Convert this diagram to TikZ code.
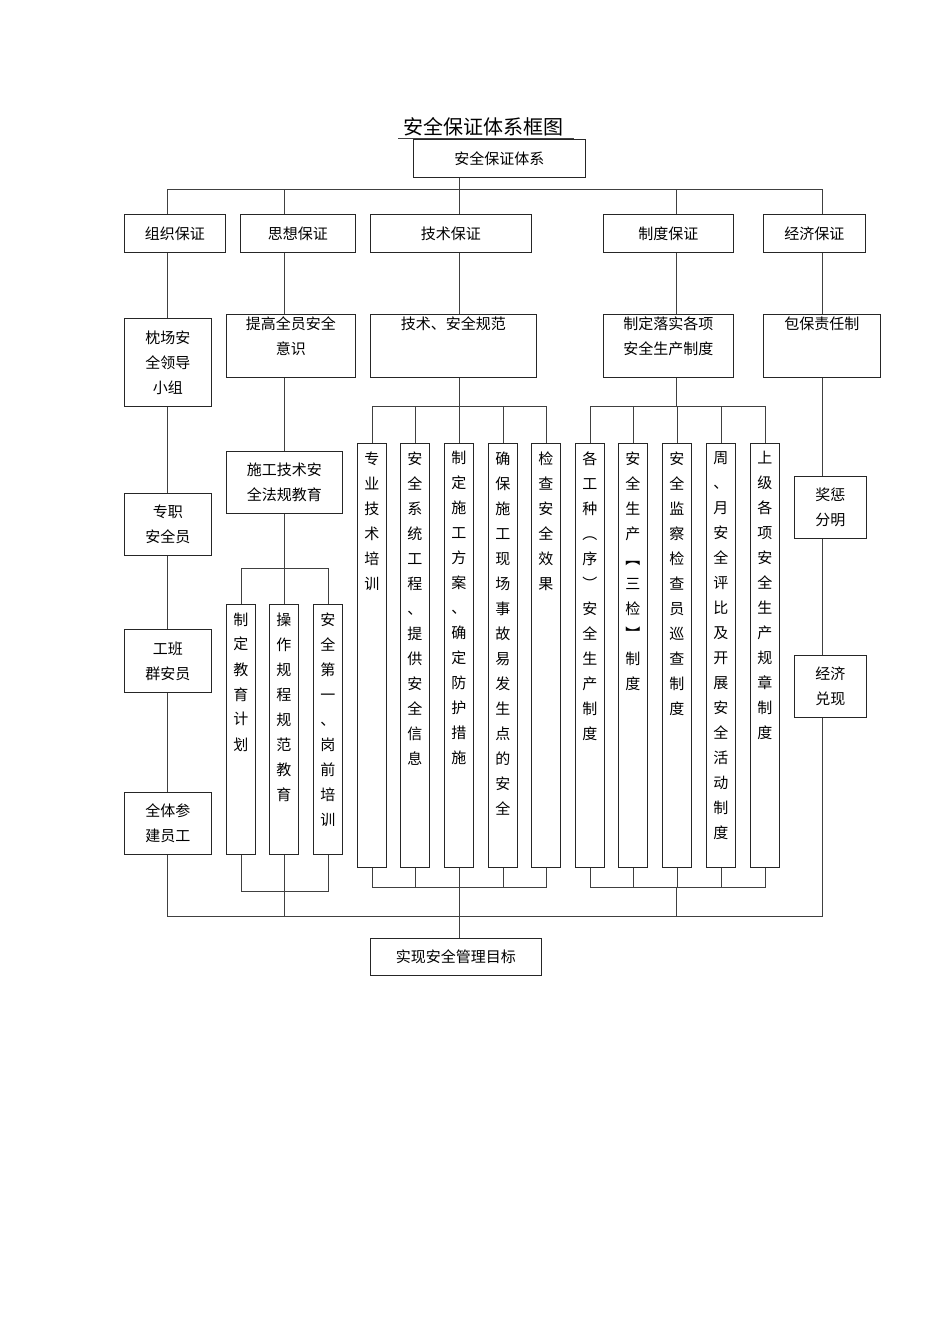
\documentclass[tikz,border=0pt]{standalone}
\usepackage{fontspec}
\setmainfont{Noto Sans CJK SC}
\def\vsloop#1{\ifx\relax#1\else#1\par\expandafter\vsloop\fi}
\newcommand\vtext[1]{\vsloop#1\relax}
\newcommand\bx[8]{\node[box,anchor=north west] (#1) at (#2,#3) {\parbox[c][\dimexpr#5pt-#3pt\relax][#6]{\dimexpr#4pt-#2pt\relax}{\centering\vspace*{#7pt}#8\par}};}
\begin{document}
\begin{tikzpicture}[x=1pt,y=-1pt,
  box/.style={draw=black!85,line width=0.9pt,inner sep=0pt,font=\fontsize{15}{25}\selectfont},
  ln/.style={draw=black!75,line width=0.8pt}]
\useasboundingbox (0,0) rectangle (950,1344);
\node[font=\fontsize{20}{24}\selectfont] (title) at (483,127) {安全保证体系框图};
\draw[ln] (398,138) -- (574,138);
% boxes
\bx{top}{413}{139}{585}{177}{c}{0}{安全保证体系}
\bx{a1}{124}{214}{225}{252}{c}{0}{组织保证}
\bx{b1}{240}{214}{355}{252}{c}{0}{思想保证}
\bx{c1}{370}{214}{531}{252}{c}{0}{技术保证}
\bx{d1}{603}{214}{733}{252}{c}{0}{制度保证}
\bx{e1}{763}{214}{865}{252}{c}{0}{经济保证}
\bx{a2}{124}{318}{211}{406}{c}{0}{枕场安\\全领导\\小组}
\bx{b2}{226}{314}{355}{377}{t}{2}{提高全员安全\\意识}
\bx{c2}{370}{314}{536}{377}{t}{2}{技术、安全规范}
\bx{d2}{603}{314}{733}{377}{t}{2}{制定落实各项\\安全生产制度}
\bx{e2}{763}{314}{880}{377}{t}{2}{包保责任制}
\bx{b3}{226}{451}{342}{513}{c}{0}{施工技术安\\全法规教育}
\bx{a3}{124}{493}{211}{555}{c}{0}{专职\\安全员}
\bx{a4}{124}{629}{211}{692}{c}{0}{工班\\群安员}
\bx{a5}{124}{792}{211}{854}{c}{0}{全体参\\建员工}
\bx{e3}{794}{476}{866}{538}{c}{0}{奖惩\\分明}
\bx{e4}{794}{655}{866}{717}{c}{0}{经济\\兑现}
\bx{g1}{226}{604}{255}{854}{t}{8}{\vtext{制定教育计划}}
\bx{g2}{269}{604}{298}{854}{t}{8}{\vtext{操作规程规范教育}}
\bx{g3}{313}{604}{342}{854}{t}{8}{\vtext{安全第一、岗前培训}}
\bx{t1}{357}{443}{386}{867}{t}{8}{\vtext{专业技术培训}}
\bx{t2}{400}{443}{429}{867}{t}{8}{\vtext{安全系统工程、提供安全信息}}
\bx{t3}{444}{443}{473}{867}{t}{8}{\vtext{制定施工方案、确定防护措施}}
\bx{t4}{488}{443}{517}{867}{t}{8}{\vtext{确保施工现场事故易发生点的安全}}
\bx{t5}{531}{443}{560}{867}{t}{8}{\vtext{检查安全效果}}
\bx{s1}{575}{443}{604}{867}{t}{8}{\vtext{各工种︵序︶安全生产制度}}
\bx{s2}{618}{443}{647}{867}{t}{8}{\vtext{安全生产︻三检︼制度}}
\bx{s3}{662}{443}{691}{867}{t}{8}{\vtext{安全监察检查员巡查制度}}
\bx{s4}{706}{443}{735}{867}{t}{8}{\vtext{周、月安全评比及开展安全活动制度}}
\bx{s5}{750}{443}{779}{867}{t}{8}{\vtext{上级各项安全生产规章制度}}
\bx{goal}{370}{938}{541}{975}{c}{0}{实现安全管理目标}
% branch coordinates
\coordinate (xa) at (167,0); \coordinate (xb) at (284,0); \coordinate (xc) at (459,0);
\coordinate (xd) at (676,0); \coordinate (xe) at (822,0);
\coordinate (ytop) at (0,189); \coordinate (ybot) at (0,916);
\coordinate (ye) at (0,568); \coordinate (yeb) at (0,891);
\coordinate (yt) at (0,406); \coordinate (ytb) at (0,887);
% top bus
\draw[ln] (top.south -| xc) -- (xc |- ytop);
\draw[ln] (xa |- a1.north) -- (xa |- ytop) -- (xe |- ytop) -- (xe |- e1.north);
\draw[ln] (xb |- ytop) -- (xb |- b1.north);
\draw[ln] (xc |- ytop) -- (xc |- c1.north);
\draw[ln] (xd |- ytop) -- (xd |- d1.north);
% columns
\draw[ln] (xa |- a1.south) -- (xa |- a2.north);
\draw[ln] (xa |- a2.south) -- (xa |- a3.north);
\draw[ln] (xa |- a3.south) -- (xa |- a4.north);
\draw[ln] (xa |- a4.south) -- (xa |- a5.north);
\draw[ln] (xa |- a5.south) -- (xa |- ybot) -- (xe |- ybot) -- (xe |- e4.south);
\draw[ln] (xb |- b1.south) -- (xb |- b2.north);
\draw[ln] (xb |- b2.south) -- (xb |- b3.north);
\draw[ln] (xb |- b3.south) -- (xb |- ye);
\draw[ln] (g1.north) |- (g3.north |- ye) -- (g3.north);
\draw[ln] (g2.north) -- (g2.north |- ye);
\draw[ln] (g1.south) |- (g3.south |- yeb) -- (g3.south);
\draw[ln] (g2.south) -- (g2.south |- yeb);
\draw[ln] (xb |- yeb) -- (xb |- ybot);
\draw[ln] (xc |- c1.south) -- (xc |- c2.north);
\draw[ln] (xc |- c2.south) -- (xc |- yt);
\draw[ln] (t1.north) |- (t5.north |- yt) -- (t5.north);
\foreach \n in {t2,t3,t4} \draw[ln] (\n.north) -- (\n.north |- yt);
\draw[ln] (t1.south) |- (t5.south |- ytb) -- (t5.south);
\foreach \n in {t2,t3,t4} \draw[ln] (\n.south) -- (\n.south |- ytb);
\draw[ln] (xc |- ytb) -- (goal.north -| xc);
\draw[ln] (xd |- d1.south) -- (xd |- d2.north);
\draw[ln] (xd |- d2.south) -- (xd |- yt);
\draw[ln] (s1.north) |- (s5.north |- yt) -- (s5.north);
\foreach \n in {s2,s3,s4} \draw[ln] (\n.north) -- (\n.north |- yt);
\draw[ln] (s1.south) |- (s5.south |- ytb) -- (s5.south);
\foreach \n in {s2,s3,s4} \draw[ln] (\n.south) -- (\n.south |- ytb);
\draw[ln] (xd |- ytb) -- (xd |- ybot);
\draw[ln] (xe |- e1.south) -- (xe |- e2.north);
\draw[ln] (xe |- e2.south) -- (xe |- e3.north);
\draw[ln] (xe |- e3.south) -- (xe |- e4.north);
\end{tikzpicture}
\end{document}
